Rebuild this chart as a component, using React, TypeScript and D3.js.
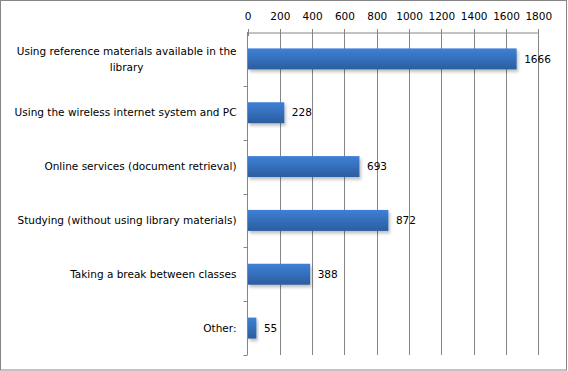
import React, { useEffect, useRef } from "react";
import * as d3 from "d3";

const categories = [
  "Using reference materials available in the library",
  "Using the wireless internet system and PC",
  "Online services (document retrieval)",
  "Studying (without using library materials)",
  "Taking a break between classes",
  "Other:",
];
const values = [1666, 228, 693, 872, 388, 55];
const tickValues = [0, 200, 400, 600, 800, 1000, 1200, 1400, 1600, 1800];

// manual wrapping like the original label box
const labelLines: string[][] = [
  ["Using reference materials available in the", "library"],
  ["Using the wireless internet system and PC"],
  ["Online services (document retrieval)"],
  ["Studying (without using library materials)"],
  ["Taking a break between classes"],
  ["Other:"],
];

const App = () => {
  const svgRef = useRef<SVGSVGElement>(null);

  useEffect(() => {
    const svg = d3.select(svgRef.current);
    svg.selectAll("*").remove();

    const height = 371;
    const margin = { top: 32, right: 30, bottom: 16, left: 247.5 };
    const font = "DejaVu Sans, Verdana, sans-serif";
    const fs = 10.5;

    const defs = svg.append("defs");
    const grad = defs.append("linearGradient")
      .attr("id", "barGrad").attr("x1", 0).attr("y1", 0).attr("x2", 0).attr("y2", 1);
    grad.append("stop").attr("offset", "0%").attr("stop-color", "#3f80d6");
    grad.append("stop").attr("offset", "100%").attr("stop-color", "#2b5d9e");
    const filter = defs.append("filter").attr("id", "shadow")
      .attr("x", "-10%").attr("y", "-20%").attr("width", "130%").attr("height", "160%");
    filter.append("feDropShadow")
      .attr("dx", 1.5).attr("dy", 2.5).attr("stdDeviation", 1.5)
      .attr("flood-color", "#000").attr("flood-opacity", 0.25);

    svg.append("rect")
      .attr("x", 0.5).attr("y", 0.5)
      .attr("width", 566).attr("height", 369.5)
      .attr("fill", "#fff").attr("stroke", "#868686");

    const x = d3.scaleLinear()
      .domain([0, 1800])
      .range([margin.left, 538.3]);

    const y = d3.scaleBand()
      .domain(categories)
      .range([margin.top, height - margin.bottom])
      .paddingInner(0.61)
      .paddingOuter(0.305);

    // vertical gridlines
    svg.append("g")
      .selectAll("line")
      .data(tickValues.slice(1))
      .join("line")
      .attr("x1", d => Math.round(x(d)) + 0.5)
      .attr("x2", d => Math.round(x(d)) + 0.5)
      .attr("y1", margin.top)
      .attr("y2", height - margin.bottom)
      .attr("stroke", "#868686");

    // top axis
    const xAxis = svg.append("g")
      .attr("transform", `translate(0,${margin.top + 0.5})`)
      .call(d3.axisTop(x).tickValues(tickValues).tickFormat(d3.format("d")).tickSize(0).tickPadding(13));
    xAxis.select(".domain").attr("stroke", "#868686");
    xAxis.selectAll("text")
      .attr("font-family", font).attr("font-size", fs).attr("fill", "#000");
    xAxis.selectAll(".tick line").remove();
    svg.append("g")
      .selectAll("line")
      .data(tickValues)
      .join("line")
      .attr("x1", d => Math.round(x(d)) + 0.5)
      .attr("x2", d => Math.round(x(d)) + 0.5)
      .attr("y1", margin.top - 3)
      .attr("y2", margin.top + 4)
      .attr("stroke", "#868686");

    // left axis with ticks at category boundaries
    const boundaryYs = d3.range(categories.length + 1)
      .map(i => margin.top + i * y.step());
    svg.append("line")
      .attr("x1", margin.left).attr("x2", margin.left)
      .attr("y1", margin.top).attr("y2", height - margin.bottom)
      .attr("stroke", "#868686");
    svg.append("g")
      .selectAll("line")
      .data(boundaryYs.slice(1))
      .join("line")
      .attr("x1", margin.left - 4).attr("x2", margin.left)
      .attr("y1", d => Math.round(d) + 0.5).attr("y2", d => Math.round(d) + 0.5)
      .attr("stroke", "#868686");

    // bars
    svg.append("g")
      .selectAll("rect")
      .data(values)
      .join("rect")
      .attr("x", margin.left + 0.5)
      .attr("y", (_, i) => y(categories[i]) as number)
      .attr("width", d => x(d) - margin.left - 0.5)
      .attr("height", y.bandwidth())
      .attr("fill", "url(#barGrad)")
      .attr("filter", "url(#shadow)");

    // value labels
    svg.append("g")
      .selectAll("text")
      .data(values)
      .join("text")
      .attr("x", d => x(d) + 7.5)
      .attr("y", (_, i) => (y(categories[i]) as number) + y.bandwidth() / 2)
      .attr("dy", "0.35em")
      .attr("font-family", font)
      .attr("font-size", fs)
      .text(d => d);

    // category labels
    const lab = svg.append("g");
    labelLines.forEach((lines, i) => {
      const cy = (y(categories[i]) as number) + y.bandwidth() / 2;
      const lh = 16;
      const t = lab.append("text")
        .attr("font-family", font)
        .attr("font-size", fs)
        .attr("text-anchor", "middle");
      const widths: number[] = [];
      lines.forEach((ln, j) => {
        const ts = t.append("tspan").text(ln)
          .attr("y", cy - ((lines.length - 1) * lh) / 2 + j * lh)
          .attr("dy", "0.35em");
        widths.push((ts.node() as SVGTSpanElement).getComputedTextLength());
      });
      const maxW = d3.max(widths) as number;
      const cx = 236.5 - maxW / 2;
      t.selectAll("tspan").attr("x", cx);
    });
  }, []);

  return (
    <svg
      ref={svgRef}
      width={568}
      height={371}
      style={{ position: "fixed", left: 0, top: 0 }}
    />
  );
};

export default App;
